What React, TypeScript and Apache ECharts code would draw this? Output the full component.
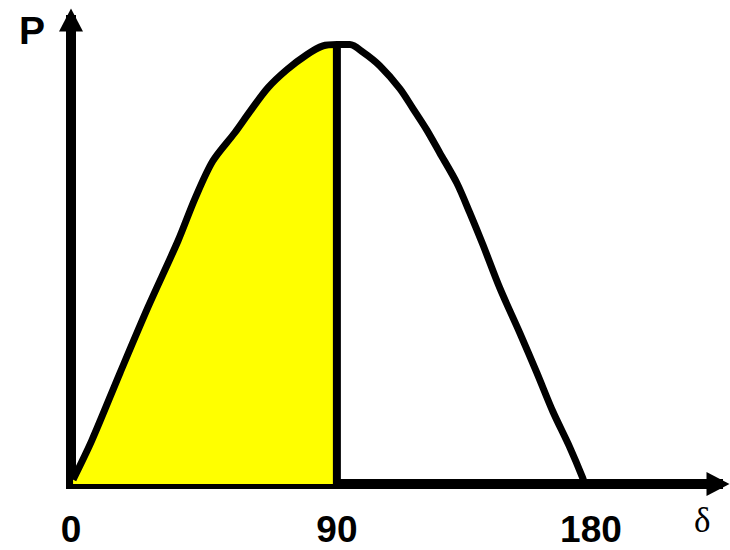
import React, { useEffect, useRef } from "react";
import * as echarts from "echarts";

// Power–angle curve P(δ) (δ in degrees, P normalised to its peak)
const curveDelta = [0.7, 7.1, 16.6, 26.1, 36.2, 42.0, 48.0, 55.5, 60.6, 66.7, 73.1, 79.8, 85.3, 90, 94.4, 98.8, 104.5, 111.3, 115.7, 120.4, 124.8, 130.6, 135.0, 139.4, 145.2, 151.9, 157.7, 163.1, 168.8, 173.2, 173.8];
const curveP = [0.01, 0.1, 0.253, 0.403, 0.553, 0.65, 0.735, 0.8, 0.848, 0.902, 0.943, 0.977, 0.997, 1.0, 1.0, 0.983, 0.952, 0.9, 0.855, 0.806, 0.754, 0.685, 0.617, 0.545, 0.445, 0.344, 0.253, 0.165, 0.084, 0.014, 0.0];

// Shaded region ends at δ = 90
const shadeEnd = 90;
const peakP = 1.0;

// Tick positions on the δ axis and their labels
const tickValues = [0, 90, 176];
const tickLabels = ["0", "90", "180"];

const xTitle = "δ";
const yTitle = "P";

export default function App() {
  const ref = useRef<HTMLDivElement>(null);

  useEffect(() => {
    if (!ref.current) return;
    const chart = echarts.init(ref.current, null, { renderer: "svg" });

    const curve = curveDelta.map((d, i) => [d, curveP[i]]);
    const shade = curve.filter((p) => p[0] <= shadeEnd);

    chart.setOption({
      animation: false,
      backgroundColor: "#ffffff",
      grid: { left: 71, right: 12, top: 20, bottom: 66, containLabel: false },
      xAxis: {
        type: "value",
        min: 0,
        max: 219,
        splitLine: { show: false },
        axisTick: { show: false },
        axisLine: {
          show: true,
          onZero: false,
          symbol: ["none", "triangle"],
          symbolSize: [24, 23],
          lineStyle: { color: "#000", width: 10, cap: "square" },
        },
        axisLabel: {
          customValues: tickValues,
          formatter: (v: number) => {
            const i = tickValues.indexOf(v);
            return i >= 0 ? tickLabels[i] : "";
          },
          color: "#000",
          fontSize: 37,
          fontWeight: "bold",
          fontFamily: "Liberation Sans, Arial, sans-serif",
          margin: 27,
        },
      },
      yAxis: {
        type: "value",
        min: 0,
        max: 1.056,
        splitLine: { show: false },
        axisTick: { show: false },
        axisLabel: { show: false },
        axisLine: {
          show: true,
          onZero: false,
          symbol: ["none", "triangle"],
          symbolSize: [24, 23],
          lineStyle: { color: "#000", width: 10, cap: "square" },
        },
      },
      graphic: [
        {
          type: "text",
          left: 19,
          top: 11,
          style: {
            text: yTitle,
            fill: "#000",
            font: "bold 39px 'Liberation Sans', Arial, sans-serif",
          },
        },
        {
          type: "text",
          left: 694,
          top: 503,
          style: {
            text: xTitle,
            fill: "#000",
            font: "35px 'Liberation Serif', 'Times New Roman', serif",
          },
        },
      ],
      series: [
        {
          type: "line",
          data: shade,
          symbol: "none",
          smooth: 0.3,
          lineStyle: { width: 0 },
          areaStyle: { color: "#ffff00", opacity: 1 },
          z: 1,
          silent: true,
        },
        {
          type: "line",
          data: curve,
          symbol: "none",
          smooth: 0.3,
          lineStyle: { color: "#000", width: 7 },
          z: 3,
          silent: true,
        },
        {
          type: "line",
          data: [
            [shadeEnd, 0],
            [shadeEnd, peakP],
          ],
          symbol: "none",
          lineStyle: { color: "#000", width: 8 },
          z: 3,
          silent: true,
        },
      ],
    });

    return () => chart.dispose();
  }, []);

  return (
    <div
      ref={ref}
      style={{ position: "fixed", left: 0, top: 0, width: 730, height: 550 }}
    />
  );
}
